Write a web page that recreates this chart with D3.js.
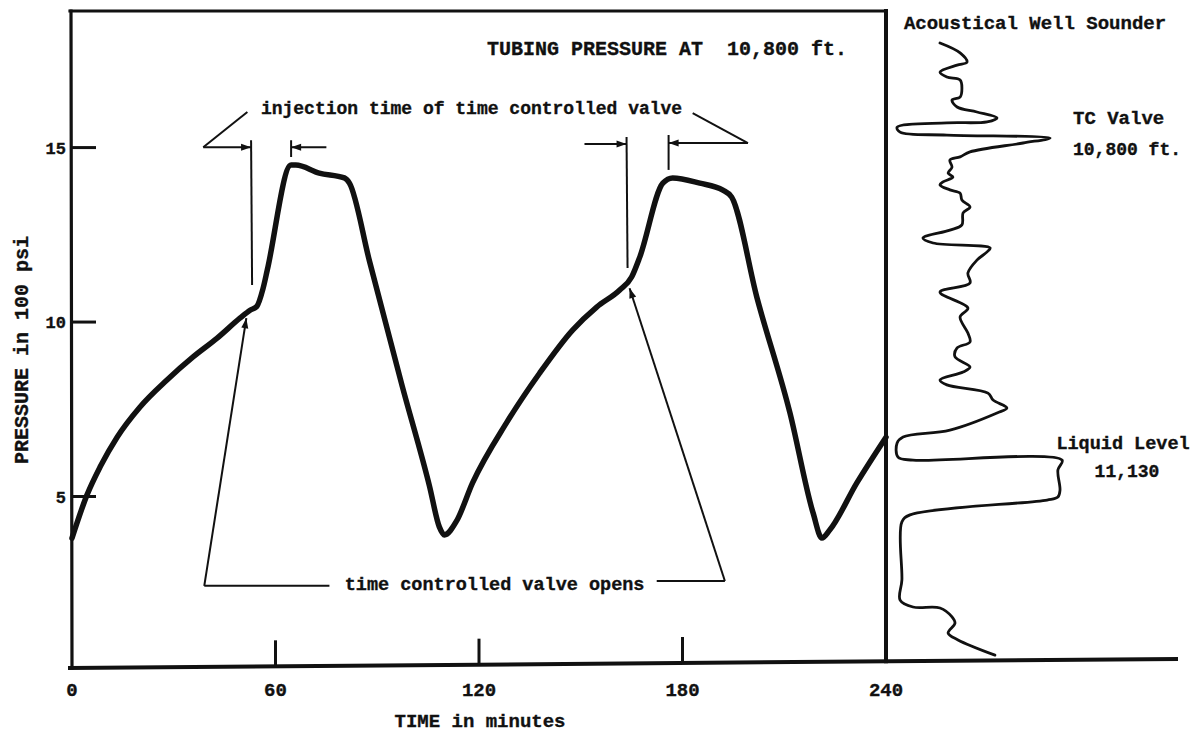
<!DOCTYPE html>
<html>
<head>
<meta charset="utf-8">
<script src="https://cdn.jsdelivr.net/npm/d3@7/dist/d3.min.js"></script>
<style>
  html, body { margin: 0; padding: 0; background: #fff; }
  svg { display: block; }
  text { font-family: "Liberation Mono", "DejaVu Sans Mono", monospace; font-weight: bold; fill: #111; stroke: #111; stroke-width: 0.35px; }
</style>
</head>
<body>
<svg id="chart" width="1200" height="734"></svg>
<script>
// ---------- DATA ----------
// Tubing pressure at 10,800 ft (time in minutes, pressure in 100 psi)
const timeMin = [0, 4.4, 8.3, 13.3, 20.0, 28.0, 35.7, 42.8, 49.5, 52.5, 54.5, 56.3, 57.6, 64.6, 66.0, 72.9, 80.3, 81.8,
  87.7, 97.4, 105.4, 108.3, 109.8, 113.4, 118.1, 128.1, 137.9, 147.6, 154.7, 161.5, 165.0, 167.4, 174.2,
  177.1, 185.1, 191.9, 194.5, 201.9, 211.7, 218.5, 221.1, 223.4, 231.4, 240];
const pressure = [3.81, 5.04, 5.85, 6.70, 7.56, 8.34, 9.0, 9.54, 10.11, 10.34, 10.45, 10.95, 11.5, 14.5, 14.5, 14.27, 14.13, 13.98,
  11.75, 8.15, 5.3, 4.13, 3.9, 4.3, 5.39, 7.11, 8.54, 9.77, 10.43, 10.92, 11.29, 11.86, 13.98,
  14.13, 13.98, 13.78, 13.58, 10.72, 7.39, 4.53, 3.81, 4.04, 5.39, 6.70];

// Acoustical well sounder trace (depth index top->bottom, deflection amplitude)
const sounderDepth = [9.7, 12.7, 15.5, 16.4, 18.5, 20, 20.9, 23.3, 26.1, 27, 29.1, 30.6, 32.4, 33.6, 33.9, 35.2, 36.7,
  37.6, 38.5, 40, 42.7, 44.2, 45.2, 47.3, 49.1, 50.3, 51.8, 52.7, 54.2, 55.2, 57.3, 59.4, 61.2, 64.8, 66.4,
  68.8, 70.3, 71.8, 73, 75.5, 79.4, 82.4, 85.2, 90, 92.7, 97.6, 100.3, 102.1, 104.8, 107.9, 109.4, 111.8,
  113.3, 115.8, 117.9, 120.3, 121.8, 127, 129.1, 130.9, 135.2, 136.1, 136.1, 139.1, 145.2, 147.3, 148.2,
  152.7, 154.8, 172.4, 178.5, 180.6, 180.9, 183.6, 185.5, 188.5, 190.6, 195.2];
const sounderAmp = [18, 24.7, 27, 23.7, 18, 20.3, 24.7, 25.3, 24.7, 22, 23.7, 30.3, 37, 33.7, 20.3, 3.7, 4.7,
  20.3, 54.7, 45.7, 28, 24.7, 21.3, 22, 20.7, 22.3, 19, 18, 21.3, 24.7, 25.3, 28, 25.7, 25.3, 21.3,
  12.3, 15.7, 34.7, 33.7, 30.3, 27.3, 28, 18, 27.3, 24.7, 27.3, 28, 23.7, 23, 28, 25.7, 18,
  20.3, 34, 35.7, 40.3, 37, 21.3, 5.7, 3.7, 4, 9, 58.7, 57.3, 58, 57.3, 53.7,
  8, 5.3, 5.3, 4.7, 9, 18, 22, 23, 20.7, 24, 36.3];

const xTicks = [0, 60, 120, 180, 240];
const yTicks = [5, 10, 15];

// ---------- SCALES ----------
const svg = d3.select("#chart");
const x = d3.scaleLinear().domain([0, 240]).range([72, 886]);
const y = d3.scaleLinear().domain([0, 19]).range([671, 8]);
const sx = d3.scaleLinear().domain([0, 100]).range([886, 1186]);
const sy = d3.scaleLinear().domain([0, 200]).range([11, 671]);
// slight tilt of the scanned baseline
const baseY = px => 668 - (px - 70) * 9 / 1106;

// arrow marker
const defs = svg.append("defs");
defs.append("marker").attr("id", "arr")
  .attr("viewBox", "0 -4 10 8").attr("refX", 10).attr("refY", 0)
  .attr("markerUnits", "userSpaceOnUse").attr("markerWidth", 11).attr("markerHeight", 8)
  .attr("orient", "auto")
  .append("path").attr("d", "M0,-3.5L10,0L0,3.5Z").attr("fill", "#111");

// ---------- FRAME ----------
const frame = svg.append("g").attr("stroke", "#111").attr("fill", "none").attr("stroke-linecap", "square");
frame.append("line").attr("x1", 70).attr("y1", 11).attr("x2", x(240)).attr("y2", 11).attr("stroke-width", 3.2);
frame.append("line").attr("x1", 71).attr("y1", 11).attr("x2", 72).attr("y2", 668).attr("stroke-width", 3.2);
frame.append("line").attr("x1", x(240)).attr("y1", 11).attr("x2", x(240)).attr("y2", baseY(x(240))).attr("stroke-width", 4);
frame.append("line").attr("x1", 70).attr("y1", baseY(70)).attr("x2", 1176).attr("y2", baseY(1176)).attr("stroke-width", 4);

// ---------- TICKS ----------
svg.append("g").selectAll("line").data(xTicks.filter(d => d > 0 && d < 240)).join("line")
  .attr("x1", d => x(d)).attr("x2", d => x(d))
  .attr("y1", d => baseY(x(d)) - 26).attr("y2", d => baseY(x(d)))
  .attr("stroke", "#111").attr("stroke-width", 3);
svg.append("g").selectAll("text").data(xTicks).join("text")
  .attr("x", d => x(d)).attr("y", 696).attr("text-anchor", "middle")
  .attr("font-size", 19).text(d => d);

svg.append("g").selectAll("line").data(yTicks).join("line")
  .attr("x1", 71).attr("x2", 96).attr("y1", d => y(d)).attr("y2", d => y(d))
  .attr("stroke", "#111").attr("stroke-width", 3);
svg.append("g").selectAll("text").data(yTicks).join("text")
  .attr("x", 66).attr("y", d => y(d) + 6).attr("text-anchor", "end")
  .attr("font-size", 17).text(d => d);

// axis titles
svg.append("text").attr("x", 480).attr("y", 727).attr("text-anchor", "middle")
  .attr("font-size", 19).text("TIME in minutes");
svg.append("text").attr("transform", "translate(28,350) rotate(-90)").attr("text-anchor", "middle")
  .attr("font-size", 20).text("PRESSURE in 100 psi");

// title
svg.append("text").attr("x", 847).attr("y", 55).attr("text-anchor", "end")
  .attr("font-size", 20).attr("xml:space", "preserve").style("white-space", "pre")
  .text("TUBING PRESSURE AT  10,800 ft.");

// ---------- PRESSURE CURVE ----------
const pts = timeMin.map((t, i) => [t, pressure[i]]);
svg.append("path").datum(pts)
  .attr("d", d3.line().x(d => x(d[0])).y(d => y(d[1])).curve(d3.curveMonotoneX))
  .attr("fill", "none").attr("stroke", "#111").attr("stroke-width", 5.5)
  .attr("stroke-linejoin", "round").attr("stroke-linecap", "round");

// ---------- ANNOTATIONS ----------
const ann = svg.append("g").attr("stroke", "#111").attr("fill", "none").attr("stroke-width", 2);
function seg(t1, p1, t2, p2, arrow) {
  const l = ann.append("line").attr("x1", x(t1)).attr("y1", y(p1)).attr("x2", x(t2)).attr("y2", y(p2));
  if (arrow) l.attr("marker-end", "url(#arr)");
  return l;
}
// injection time brackets
seg(51.7, 16.02, 38.7, 15.01);
seg(38.7, 15.01, 52.8, 15.01, true);
seg(52.8, 15.21, 53.1, 11.06);
seg(64.6, 15.21, 64.6, 14.73);
seg(75.0, 15.01, 64.6, 15.01, true);
seg(151.1, 15.10, 163.5, 15.10, true);
seg(163.5, 15.30, 163.8, 11.55);
seg(175.9, 15.36, 175.9, 14.36);
seg(199.3, 15.13, 175.9, 15.13, true);
seg(183.0, 15.99, 199.3, 15.13);
svg.append("text").attr("x", x(117.8)).attr("y", y(15.96)).attr("text-anchor", "middle")
  .attr("font-size", 18).text("injection time of time controlled valve");

// valve opens
seg(75.9, 2.44, 39.0, 2.44);
seg(39.0, 2.44, 51.4, 10.11, true);
seg(172.4, 2.58, 192.5, 2.58);
seg(192.5, 2.58, 164.4, 10.97, true);
svg.append("text").attr("x", x(124.6)).attr("y", y(2.32)).attr("text-anchor", "middle")
  .attr("font-size", 18.5).text("time controlled valve opens");

// ---------- SOUNDER ----------
const spts = sounderDepth.map((d, i) => [sounderAmp[i], d]);
svg.append("path").datum(spts)
  .attr("d", d3.line().x(d => sx(d[0])).y(d => sy(d[1])).curve(d3.curveCatmullRom.alpha(0.5)))
  .attr("fill", "none").attr("stroke", "#111").attr("stroke-width", 2.8)
  .attr("stroke-linejoin", "round").attr("stroke-linecap", "round");

svg.append("text").attr("x", 1035).attr("y", 29).attr("text-anchor", "middle")
  .attr("font-size", 19).text("Acoustical Well Sounder");
svg.append("text").attr("x", 1073).attr("y", 124).attr("font-size", 19).text("TC Valve");
svg.append("text").attr("x", 1073).attr("y", 155).attr("font-size", 18).text("10,800 ft.");
svg.append("text").attr("x", 1123).attr("y", 449).attr("text-anchor", "middle")
  .attr("font-size", 18.5).text("Liquid Level");
svg.append("text").attr("x", 1127).attr("y", 477).attr("text-anchor", "middle")
  .attr("font-size", 18).text("11,130");
</script>
</body>
</html>
